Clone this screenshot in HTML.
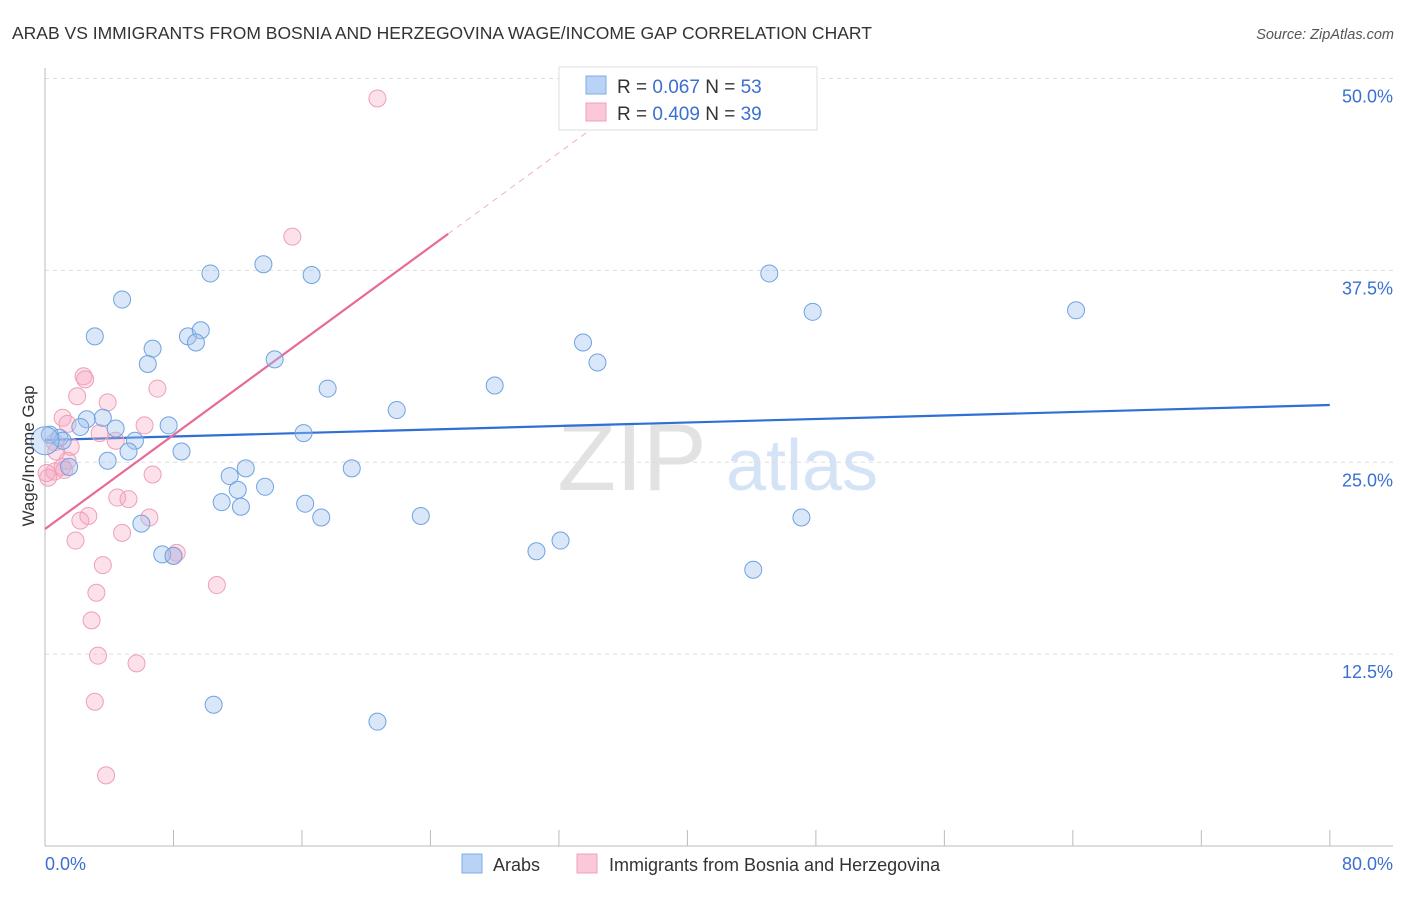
<!DOCTYPE html>
<html><head><meta charset="utf-8"><style>
body{margin:0;background:#fff;font-family:"Liberation Sans",sans-serif;}
svg text{font-family:"Liberation Sans",sans-serif;}
</style></head><body>
<svg id="c" width="1406" height="892" xmlns="http://www.w3.org/2000/svg">
<text x="12" y="39" font-size="17.5" fill="#333">ARAB VS IMMIGRANTS FROM BOSNIA AND HERZEGOVINA WAGE/INCOME GAP CORRELATION CHART</text>
<text x="1394" y="39" font-size="14.5" fill="#555" font-style="italic" text-anchor="end">Source: ZipAtlas.com</text>
<g>
<text x="632" y="490" font-size="96" fill="#e2e2e2" font-family="Liberation Serif,serif" text-anchor="middle">ZIP</text>
<text x="802" y="490" font-size="72" fill="#d4e3f6" text-anchor="middle">atlas</text>
</g>
<g id="grid"></g><g id="axes"></g><g id="lines"></g><g id="pts"></g>
<text transform="translate(34,456) rotate(-90)" font-size="17" fill="#333" text-anchor="middle">Wage/Income Gap</text>
<text x="45" y="870" font-size="18" fill="#3b6fd1">0.0%</text>
<text x="1393" y="870" font-size="18" fill="#3b6fd1" text-anchor="end">80.0%</text>
<g>
<rect x="559" y="67" width="258" height="63" fill="#fff" stroke="#ddd"/>
<rect x="586" y="76" width="20" height="18" fill="#b8d3f5" stroke="#7eaee6"/>
<rect x="586" y="103" width="20" height="18" fill="#fac8d8" stroke="#f0a0bb"/>
<text x="617" y="93" font-size="19" fill="#333">R = <tspan fill="#3b6fd1">0.067</tspan>   N = <tspan fill="#3b6fd1">53</tspan></text>
<text x="617" y="120" font-size="19" fill="#333">R = <tspan fill="#3b6fd1">0.409</tspan>   N = <tspan fill="#3b6fd1">39</tspan></text>
</g>
<g>
<rect x="462" y="854" width="20" height="19" fill="#b8d3f5" stroke="#7eaee6"/>
<text x="493" y="871" font-size="18" fill="#333">Arabs</text>
<rect x="577" y="854" width="20" height="19" fill="#fac8d8" stroke="#f0a0bb"/>
<text x="609" y="871" font-size="18" fill="#333">Immigrants from Bosnia and Herzegovina</text>
</g>
</svg>
<script>
const blueX=[4.8,3.1,6.7,6.4,8.9,9.7,9.4,10.3,13.6,16.6,14.3,17.6,21.9,16.1,7.7,4.4,3.6,2.6,2.2,5.6,5.2,8.5,3.9,1.5,0.9,1.1,0.3,11.5,12.5,12.0,13.7,11.0,12.2,16.2,17.2,19.1,23.4,6.0,7.3,8.0,10.5,20.7,28.0,33.5,34.4,30.6,32.1,45.1,47.8,64.2,47.1,44.1,0.0];
const blueY=[35.6,33.2,32.4,31.4,33.2,33.6,32.8,37.3,37.9,37.2,31.7,29.8,28.4,26.9,27.4,27.2,27.9,27.8,27.3,26.4,25.7,25.7,25.1,24.7,26.6,26.4,26.8,24.1,24.6,23.2,23.4,22.4,22.1,22.3,21.4,24.6,21.5,21.0,19.0,18.9,9.2,8.1,30.0,32.8,31.5,19.2,19.9,37.3,34.8,34.9,21.4,18.0,26.4];
const pinkX=[20.7,15.4,2.4,2.5,2.0,3.9,7.0,1.1,1.4,6.2,3.4,4.4,1.6,0.6,1.4,0.6,1.1,6.7,4.5,5.2,2.7,2.2,6.5,4.8,1.9,8.2,3.6,3.2,10.7,2.9,3.3,5.7,3.1,3.8,0.2,0.7,1.2,8.0,0.1];
const pinkY=[48.7,39.7,30.6,30.4,29.3,28.9,29.8,27.9,27.5,27.4,26.9,26.4,26.0,26.3,25.1,24.4,24.7,24.2,22.7,22.6,21.5,21.2,21.4,20.4,19.9,19.1,18.3,16.5,17.0,14.7,12.4,11.9,9.4,4.6,24.0,25.7,24.5,18.9,24.3];
const yTicks=[12.5,25.0,37.5,50.0];
const xTicks=[0,8,16,24,32,40,48,56,64,72,80];
const blueFit=[26.45,28.73];
const pinkFit=[20.65,0.766];
const NS="http://www.w3.org/2000/svg";
const sx=v=>45+v*16.06, sy=v=>846-v*15.35;
function mk(t,a,p){const e=document.createElementNS(NS,t);for(const k in a)e.setAttribute(k,a[k]);document.getElementById(p).appendChild(e);return e;}
yTicks.forEach(t=>{
 const l=mk('line',{x1:45,x2:1393,y1:sy(t),y2:sy(t),stroke:'#ddd','stroke-dasharray':'4,4'},'grid');
 
 
 const tx=mk('text',{x:1393,y:sy(t)+24,'font-size':18,fill:'#3b6fd1','text-anchor':'end'},'grid');
 tx.textContent=t.toFixed(1)+'%';
 
 
});
const ax=mk('line',{x1:45,x2:1393,y1:846,y2:846,stroke:'#bbb'},'axes');


const ay=mk('line',{x1:45,x2:45,y1:68,y2:846,stroke:'#bbb'},'axes');


xTicks.forEach(t=>{
 const l=mk('line',{x1:sx(t),x2:sx(t),y1:830,y2:846,stroke:'#bbb'},'axes');
 
 
});
const bl=mk('line',{x1:sx(0),y1:sy(blueFit[0]),x2:sx(80),y2:sy(blueFit[1]),stroke:'#2f6fd6','stroke-width':2.2},'lines');


const pe=25.1;
const pl=mk('line',{x1:sx(0),y1:sy(pinkFit[0]),x2:sx(pe),y2:sy(pinkFit[0]+pinkFit[1]*pe),stroke:'#e86a96','stroke-width':2.2},'lines');


const pd=mk('line',{x1:sx(pe),y1:sy(pinkFit[0]+pinkFit[1]*pe),x2:sx(34.5),y2:sy(pinkFit[0]+pinkFit[1]*34.5),stroke:'#f0b0c5','stroke-width':1,'stroke-dasharray':'6,5'},'lines');


pinkX.forEach((x,i)=>{
 const c=mk('circle',{cx:sx(x),cy:sy(pinkY[i]),r:8.5,fill:'rgba(245,165,195,0.35)',stroke:'#eea0b8','stroke-width':1},'pts');
 
 
});
blueX.forEach((x,i)=>{
 const c=mk('circle',{cx:sx(x),cy:sy(blueY[i]),r:i===blueX.length-1?14:8.5,fill:'rgba(160,196,240,0.4)',stroke:'#6fa3e0','stroke-width':1},'pts');
 
 
});
</script>
</body></html>
